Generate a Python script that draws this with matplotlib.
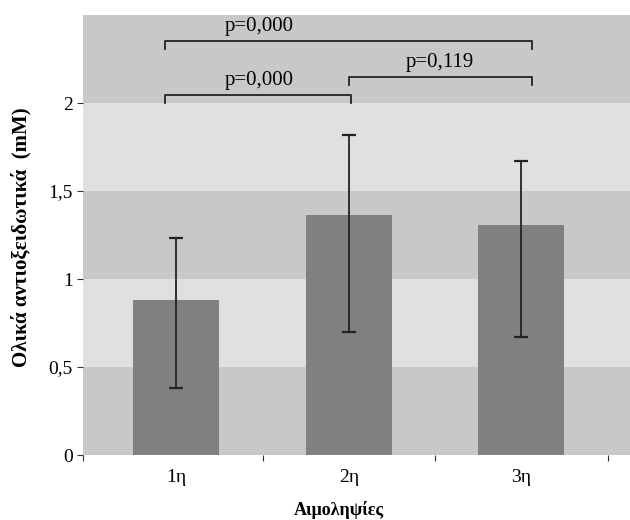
import matplotlib.pyplot as plt
import numpy as np

plt.rcParams['font.family'] = ['Liberation Serif', 'DejaVu Serif']

kathgories = ['1η', '2η', '3η']
times = [0.88, 1.364, 1.307]
katw = [0.38, 0.70, 0.67]
panw = [1.233, 1.818, 1.67]

# zeugaria sygkrisis: (apo, eos, ypsos, keimeno, thesi keimenou)
sygkriseis = [(0, 2, 2.352, 'p=0,000', 0.48),
              (0, 1, 2.045, 'p=0,000', 0.48),
              (1, 2, 2.148, 'p=0,119', 1.53)]

fig = plt.figure(figsize=(6.3, 5.2), dpi=100)
ax = fig.add_axes([0.132, 0.125, 0.868, 0.846])

# fonto me zones
zones = [0, 0.5, 1, 1.5, 2, 2.5]
for i in range(len(zones) - 1):
    ax.axhspan(zones[i], zones[i + 1], color='#c8c8c8' if i % 2 == 0 else '#e0e0e0', zorder=0, lw=0)

x = np.arange(len(kathgories))
times = np.array(times)
yerr = [times - np.array(katw), np.array(panw) - times]
ax.bar(x, times, width=0.5, color='#808080', zorder=2)
ax.errorbar(x, times, yerr=yerr, fmt='none', ecolor='#222222', elinewidth=1.3, capsize=5, capthick=1.6, zorder=3)

for a, b, h, txt, tx in sygkriseis:
    xa = a - 0.064 if a == 0 else a
    xb = b + 0.064 if b == 2 else b + 0.01
    ax.plot([xa, xa, xb, xb], [h - 0.045, h, h, h - 0.045], color='#222222', lw=1.3, zorder=3)
    ax.text(tx, h + 0.03, txt, ha='center', va='bottom', fontsize=15)

ax.set_xlim(-0.54, 2.63)
ax.set_ylim(0, 2.5)
ax.set_yticks([0, 0.5, 1, 1.5, 2])
ax.set_yticklabels(['0', '0,5', '1', '1,5', '2'], fontsize=14)
ax.set_xticks([-0.54, 0.5, 1.5, 2.5])
ax.set_xticklabels([])
ax.set_xticks(x, minor=True)
ax.set_xticklabels(kathgories, minor=True, fontsize=14)
ax.tick_params(axis='x', which='minor', length=0, pad=10)
ax.tick_params(axis='x', which='major', length=4, color='#333333')
ax.tick_params(axis='y', length=4, color='#333333')
for s in ax.spines.values():
    s.set_visible(False)

ax.set_xlabel('Αιμοληψίες', fontsize=13, fontweight='bold')
ax.set_ylabel('Ολικά αντιοξειδωτικά  (mM)', fontsize=15, fontweight='bold')
ax.xaxis.set_label_coords(0.467, -0.105)
ax.yaxis.set_label_coords(-0.094, 0.495)

fig.savefig('out.png')
